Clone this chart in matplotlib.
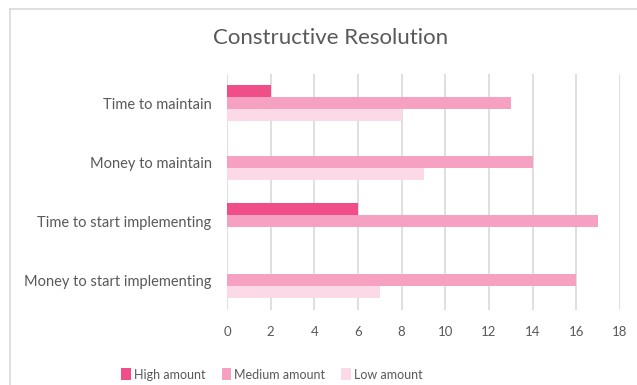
import numpy as np
import matplotlib
matplotlib.use('Agg')
import matplotlib.pyplot as plt
from matplotlib.patches import Patch
from matplotlib.lines import Line2D

plt.rcParams['font.family'] = ['Lato', 'DejaVu Sans']

# data (top to bottom as in the chart)
categories = ['Time to maintain', 'Money to maintain',
              'Time to start implementing', 'Money to start implementing']
high = [2, 0, 6, 0]
medium = [13, 14, 17, 16]
low = [8, 9, 0, 7]
series_names = ['High amount', 'Medium amount', 'Low amount']
colors = ['#F04E89', '#F6A1C2', '#FBD9E6']
xticks = list(range(0, 20, 2))

text_color = '#595959'
grid_color = '#D9D9D9'

fig = plt.figure(figsize=(6.37, 3.85), dpi=100)
ax = fig.add_axes([0.3564, 0.196, 0.6169, 0.613])

y = np.arange(len(categories))
h = 0.205
for i, (vals, col) in enumerate(zip([high, medium, low], colors)):
    ax.barh(y + (i - 1) * h, vals, height=h, color=col, zorder=3)

ax.set_ylim(len(categories) - 0.5, -0.5)
ax.set_xlim(0, 18)
ax.set_xticks(xticks)
ax.set_xticklabels([str(t) for t in xticks], color=text_color, fontsize=9.5)
ax.set_yticks(y)
ax.set_yticklabels(categories, color=text_color, fontsize=10.5)
ax.tick_params(axis='x', length=0, pad=12)
ax.tick_params(axis='y', length=0, pad=11)
ax.xaxis.grid(True, color=grid_color, linewidth=1.2, zorder=0)
for s in ax.spines.values():
    s.set_visible(False)

fig.text(0.519, 0.9, 'Constructive Resolution', ha='center', va='center',
         fontsize=16, color=text_color)

handles = [Patch(facecolor=c, edgecolor='none') for c in colors]
fig.legend(handles, series_names, loc='center', bbox_to_anchor=(0.427, 0.027),
           ncol=3, frameon=False, fontsize=9, labelcolor=text_color,
           handlelength=0.75, handleheight=1.1, handletextpad=0.25, columnspacing=1.3)

# chart border (cropped in the reference: only top and left visible)
fig.add_artist(Line2D([10 / 637, 1], [1 - 9 / 385, 1 - 9 / 385], color=grid_color,
                      linewidth=1.2, transform=fig.transFigure))
fig.add_artist(Line2D([10 / 637, 10 / 637], [0, 1 - 9 / 385], color=grid_color,
                      linewidth=1.2, transform=fig.transFigure))

fig.savefig('out.png', dpi=100)
